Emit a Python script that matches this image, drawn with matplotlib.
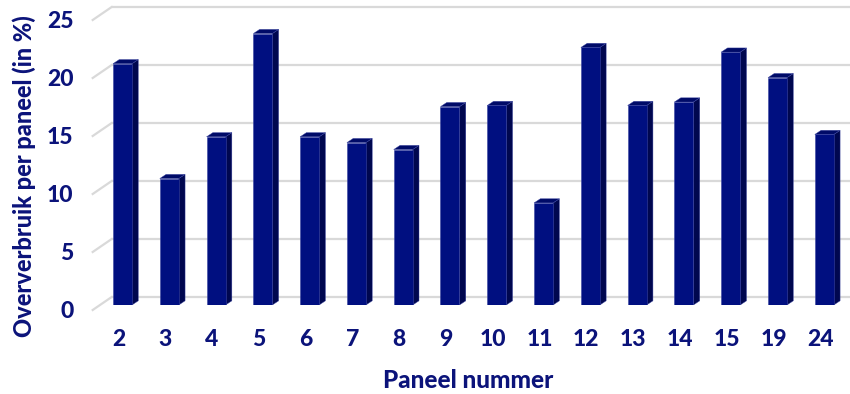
import matplotlib
matplotlib.use("Agg")
import matplotlib.pyplot as plt
from matplotlib.patches import Polygon
from matplotlib.transforms import ScaledTranslation

categories = ["2", "3", "4", "5", "6", "7", "8", "9", "10", "11", "12", "13", "14", "15", "19", "24"]
values = [20.8, 10.9, 14.5, 23.4, 14.5, 14.0, 13.4, 17.1, 17.2, 8.8, 22.2, 17.2, 17.5, 21.8, 19.6, 14.7]
yticks = [0, 5, 10, 15, 20, 25]
xlabel = "Paneel nummer"
ylabel = "Oververbruik per paneel (in %)"

FRONT = "#000f80"
SIDE = "#00074f"
TOP = "#000b68"
TEXT = "#0b137a"
GRID = "#d9d9d9"
WEIGHT = 900

plt.rcParams['font.family'] = ['Lato', 'DejaVu Sans']

fig = plt.figure(figsize=(8.5, 3.94), dpi=100)
W, H = 850, 394
ax = fig.add_axes([100 / W, (H - 305) / H, 750 / W, 301.6 / H])
ax.set_xlim(-0.48, 15.55)
ax.set_ylim(0, 26)

# 3D offsets (in data units)
wall_dx, wall_dy = 0.25, 0.69
floor_dx, floor_dy = -0.156, -0.43
bar_dx, bar_dy = 0.135, 0.36
bw = 0.406

# back wall gridlines + diagonal stubs
for v in yticks:
    ax.plot([-0.48 + wall_dx, 15.55], [v + wall_dy, v + wall_dy], color=GRID, lw=1.6,
            zorder=0, clip_on=False, solid_capstyle='butt')
    ax.plot([-0.48 + floor_dx, -0.48 + wall_dx], [v + floor_dy, v + wall_dy], color=GRID,
            lw=1.6, zorder=0, clip_on=False)

x = list(range(len(categories)))
ax.bar(x, values, width=bw, color=FRONT, edgecolor="#3a44a0", linewidth=0.4, zorder=3)
for xi, h in zip(x, values):
    x0, x1 = xi - bw / 2, xi + bw / 2
    ax.add_patch(Polygon([(x1, 0), (x1 + bar_dx, bar_dy), (x1 + bar_dx, h + bar_dy), (x1, h)],
                         closed=True, facecolor=SIDE, edgecolor="#3a44a0", lw=0.3, zorder=2))
    ax.add_patch(Polygon([(x0, h), (x1, h), (x1 + bar_dx, h + bar_dy), (x0 + bar_dx, h + bar_dy)],
                         closed=True, facecolor=TOP, edgecolor="#3a44a0", lw=0.3, zorder=2))

for s in ax.spines.values():
    s.set_visible(False)

ax.set_xticks(x)
ax.set_xticklabels(categories)
ax.set_yticks(yticks)
ax.set_yticklabels([str(v) for v in yticks])
ax.tick_params(axis='both', length=0, labelsize=16.5, labelcolor=TEXT)
ax.tick_params(axis='y', pad=19)
ax.tick_params(axis='x', pad=17)
for lab in ax.get_yticklabels():
    lab.set_transform(lab.get_transform() + ScaledTranslation(0, -5 / 100, fig.dpi_scale_trans))
    lab.set_fontweight(WEIGHT)
for lab in ax.get_xticklabels():
    lab.set_transform(lab.get_transform() + ScaledTranslation(-4 / 100, 0, fig.dpi_scale_trans))
    lab.set_fontweight(WEIGHT)

fig.text(468 / W, 1 - 380 / H, xlabel, ha='center', va='center', fontsize=17.5,
         fontweight=WEIGHT, color=TEXT)
fig.text(24 / W, 1 - 176 / H, ylabel, ha='center', va='center', fontsize=17,
         fontweight=WEIGHT, color=TEXT, rotation=90)

fig.savefig("out.png", dpi=100)
